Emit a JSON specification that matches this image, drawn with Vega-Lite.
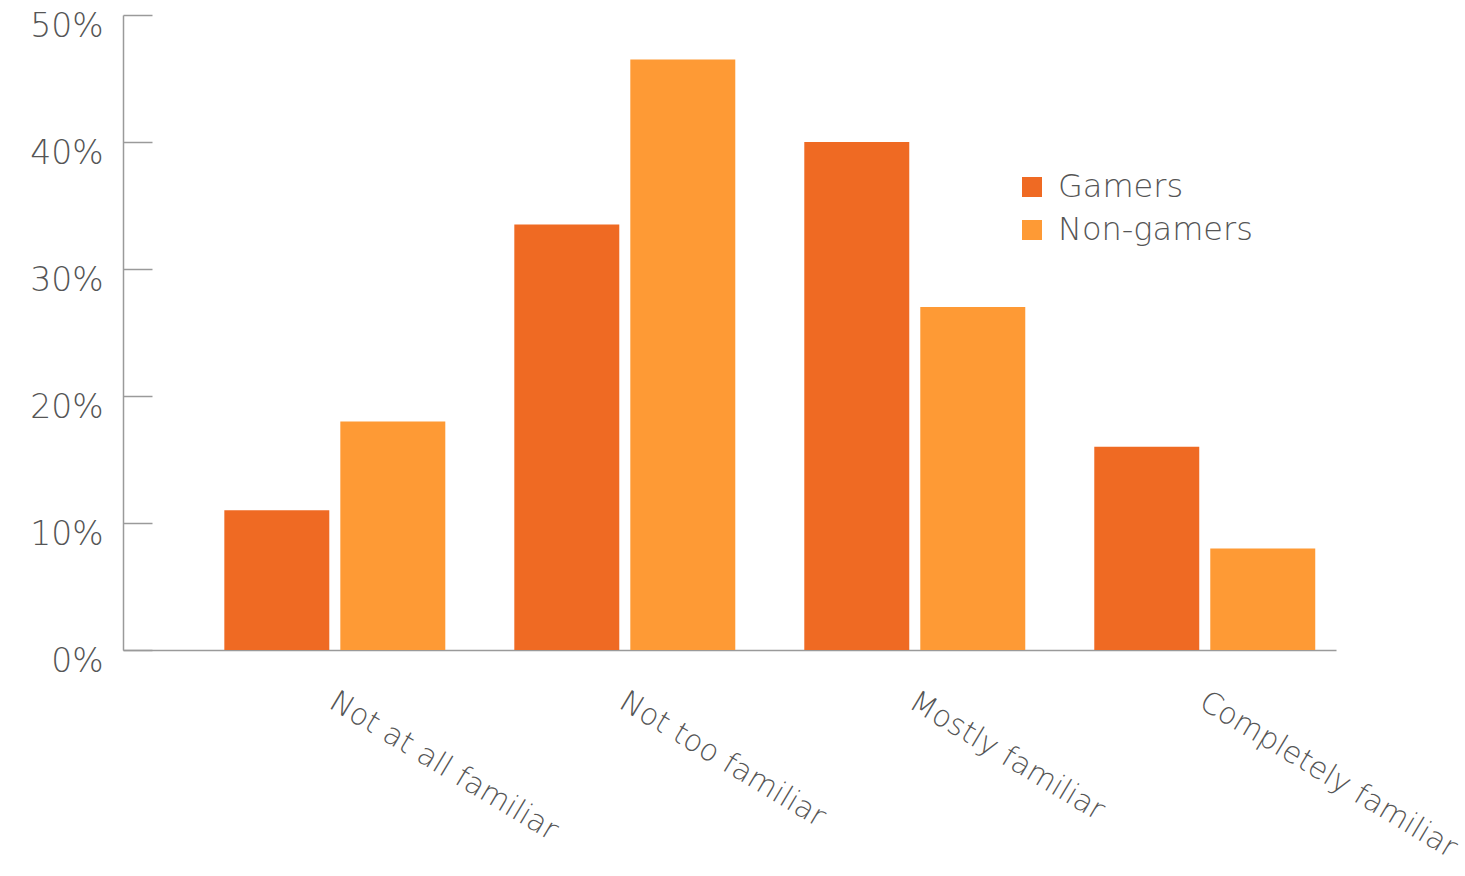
{
  "$schema": "https://vega.github.io/schema/vega-lite/v6.json",
  "autosize": "none",
  "width": 1213,
  "height": 635,
  "padding": {"left": 123, "top": 15, "right": 129, "bottom": 226},
  "background": "white",
  "config": {"view": {"stroke": null}, "font": "DejaVu Sans"},
  "data": {
    "values": [
      {"familiarity": "Not at all familiar", "group": "Gamers", "value": 0.11},
      {"familiarity": "Not at all familiar", "group": "Non-gamers", "value": 0.18},
      {"familiarity": "Not too familiar", "group": "Gamers", "value": 0.335},
      {"familiarity": "Not too familiar", "group": "Non-gamers", "value": 0.465},
      {"familiarity": "Mostly familiar", "group": "Gamers", "value": 0.40},
      {"familiarity": "Mostly familiar", "group": "Non-gamers", "value": 0.27},
      {"familiarity": "Completely familiar", "group": "Gamers", "value": 0.16},
      {"familiarity": "Completely familiar", "group": "Non-gamers", "value": 0.08}
    ]
  },
  "mark": {"type": "bar"},
  "encoding": {
    "x": {
      "field": "familiarity",
      "type": "nominal",
      "sort": ["Not at all familiar", "Not too familiar", "Mostly familiar", "Completely familiar"],
      "scale": {"paddingInner": 0.238, "paddingOuter": 0.2105, "align": 0.83},
      "axis": {
        "title": null,
        "labelAngle": 31,
        "labelAlign": "left",
        "labelBaseline": "top",
        "labelFontSize": 30,
        "labelFontWeight": 300,
        "labelColor": "#555555",
        "labelPadding": 36,
        "labelLimit": 0,
        "labelOffset": 5,
        "labelOverlap": false,
        "ticks": false,
        "domainColor": "#9a9a9a",
        "domainWidth": 1.5
      }
    },
    "xOffset": {
      "field": "group",
      "type": "nominal",
      "sort": ["Gamers", "Non-gamers"],
      "scale": {"paddingInner": 0.095}
    },
    "y": {
      "field": "value",
      "type": "quantitative",
      "scale": {"domain": [0, 0.5]},
      "axis": {
        "title": null,
        "format": ".0%",
        "values": [0, 0.1, 0.2, 0.3, 0.4, 0.5],
        "grid": false,
        "tickSize": -29,
        "tickColor": "#9a9a9a",
        "tickWidth": 1.5,
        "domainColor": "#9a9a9a",
        "domainWidth": 1.5,
        "labelPadding": 49,
        "labelFontSize": 33,
        "labelFontWeight": 300,
        "labelColor": "#555555",
        "labelBaseline": "top",
        "labelOffset": -5
      }
    },
    "color": {
      "field": "group",
      "type": "nominal",
      "sort": ["Gamers", "Non-gamers"],
      "scale": {"domain": ["Gamers", "Non-gamers"], "range": ["#EF6A23", "#FE9A35"]},
      "legend": {
        "title": null,
        "orient": "none",
        "legendX": 893,
        "legendY": 156,
        "symbolType": "square",
        "symbolSize": 400,
        "symbolStrokeWidth": 0,
        "symbolOpacity": 1,
        "labelFontSize": 32,
        "labelFontWeight": 300,
        "labelColor": "#555555",
        "labelOffset": 10,
        "labelLimit": 0,
        "rowPadding": 11
      }
    }
  }
}
